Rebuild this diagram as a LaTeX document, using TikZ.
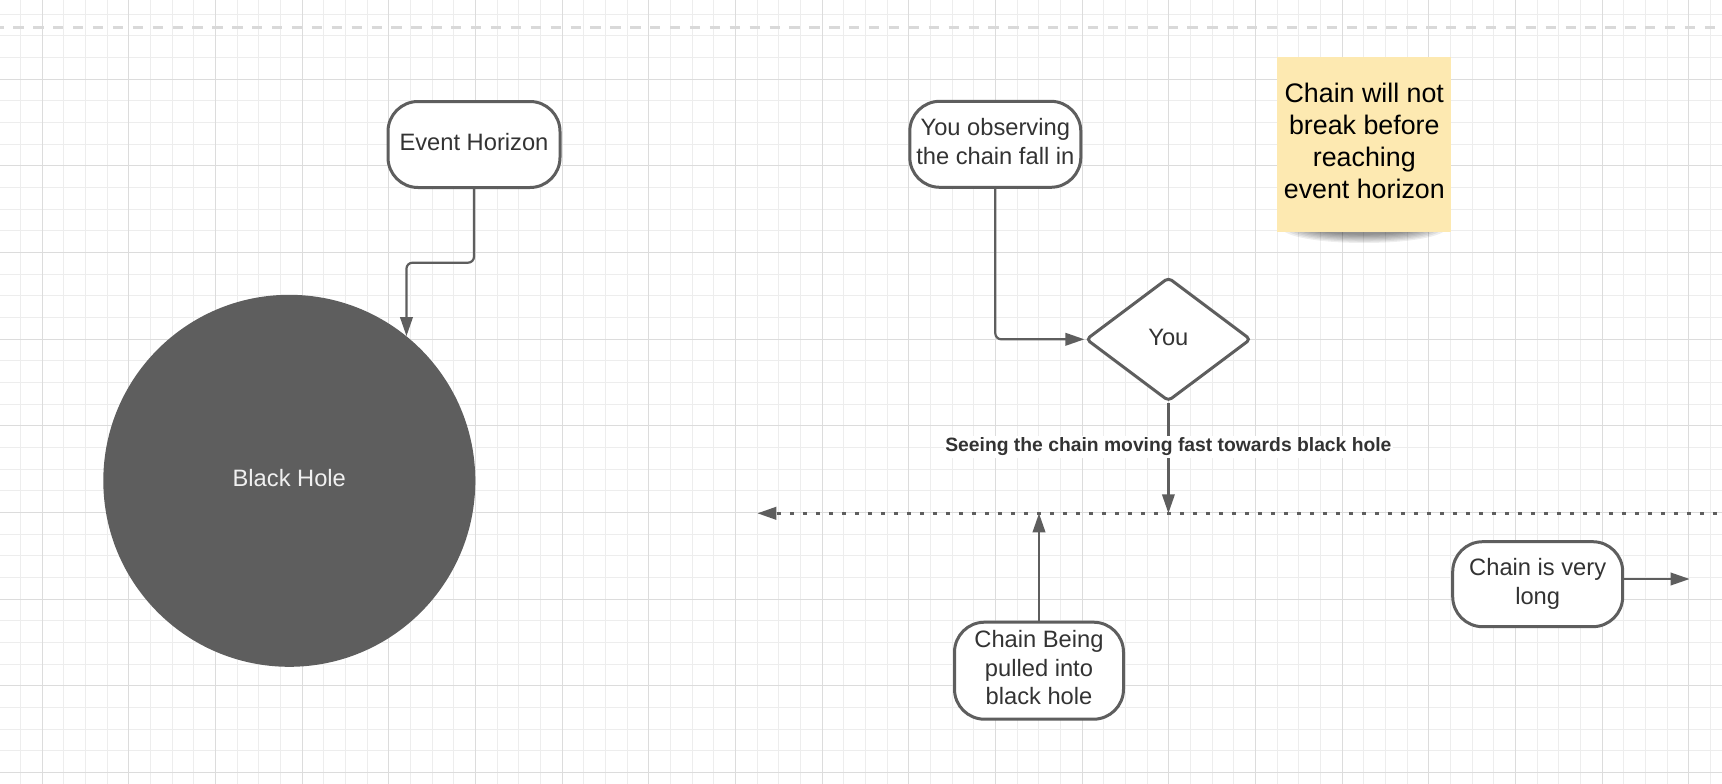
\documentclass[tikz,border=0pt]{standalone}
\usepackage{fontspec}
\setmainfont{Liberation Sans}
\usetikzlibrary{arrows.meta,shapes.geometric}
\definecolor{ln}{HTML}{5E5E5E}
\definecolor{txt}{HTML}{333333}
\definecolor{gmin}{HTML}{EDEDED}
\definecolor{gmaj}{HTML}{DCDCDC}
\definecolor{topdash}{HTML}{D9D9D9}
\definecolor{stick}{HTML}{FDE9B1}
\newcommand{\liftt}[2]{\raisebox{#1}{\begin{tabular}{@{}c@{}}#2\end{tabular}}}
\begin{document}
\begin{tikzpicture}[x=1pt,y=-1pt,
  pill/.style={draw=ln, line width=3pt, fill=white, rounded corners=30pt,
    inner sep=0pt, align=center, text=txt,
    font=\fontsize{23.7pt}{28.5pt}\selectfont},
  conn/.style={draw=ln, line width=2.2pt, -{Triangle[length=19pt,width=12.5pt]}},
  dotline/.style={conn, line width=2.6pt, dash pattern=on 4pt off 9pt},
  lbl/.style={fill=white, inner sep=1.5pt, text=txt,
    font=\fontsize{19.3pt}{23pt}\selectfont\bfseries},
  sticky/.style={fill=stick, minimum width=174pt, minimum height=174pt,
    inner sep=0pt, align=center, text=black,
    font=\fontsize{26.8pt}{32pt}\selectfont}]
\useasboundingbox (0,0) rectangle (1722,784);
\fill[white] (0,0) rectangle (1722,784);
% grid
\begin{scope}
\clip (0,0) rectangle (1722,784);
\foreach \i in {0,...,79} {\draw[gmin, line width=1pt] ({floor(20.63+21.667*\i)+0.5},0) -- ({floor(20.63+21.667*\i)+0.5},784);}
\foreach \j in {0,...,36} {\draw[gmin, line width=1pt] (0,{floor(14.3+21.667*\j)+0.5}) -- (1722,{floor(14.3+21.667*\j)+0.5});}
\foreach \i in {0,...,19} {\draw[gmaj, line width=1pt] ({floor(42.3+86.667*\i)+0.5},0) -- ({floor(42.3+86.667*\i)+0.5},784);}
\foreach \j in {0,...,8} {\draw[gmaj, line width=1pt] (0,{floor(79.3+86.667*\j)+0.5}) -- (1722,{floor(79.3+86.667*\j)+0.5});}
\end{scope}
% top dashed page line
\draw[topdash, line width=2.5pt, dash pattern=on 10.3pt off 9.6pt, dash phase=6.6pt] (0,27.3) -- (1722,27.3);
% sticky note shadow
\foreach \k in {0,...,7} {\fill[black, opacity=0.065] (1364,228) ellipse ({82-4*\k} and {15-1.2*\k});}
% nodes
\node[pill, minimum width=172pt, minimum height=86pt] (eh) at (474,144.5) {\liftt{2.2pt}{Event Horizon}};
\node[circle, fill=ln, minimum size=372pt, inner sep=0pt, text=white!94!black,
  font=\fontsize{23.7pt}{28.5pt}\selectfont] (bh) at (289.3,480.8) {\liftt{5.5pt}{Black Hole}};
\node[pill, minimum width=171pt, minimum height=86pt] (obs) at (995.3,144.3) {\liftt{4.4pt}{You observing\\the chain fall in}};
\node[diamond, draw=ln, line width=3pt, fill=white, aspect=1.33, minimum width=165pt,
  minimum height=124pt, inner sep=0pt, rounded corners=4pt, text=txt,
  font=\fontsize{23.7pt}{28.5pt}\selectfont] (you) at (1168.4,339.3) {\liftt{2.2pt}{You}};
\node[pill, minimum width=169pt, minimum height=97pt] (cb) at (1039,670.7) {\liftt{2.2pt}{Chain Being\\pulled into\\black hole}};
\node[pill, minimum width=170pt, minimum height=85pt] (cl) at (1537.7,584.2) {\liftt{1.1pt}{Chain is very\\long}};
\node[sticky] (note) at (1364.3,144.5) {\liftt{2.7pt}{Chain will not\\break before\\reaching\\event horizon}};
% free ends
\coordinate (dl) at (757.4,513.3);
\coordinate (dr) at (1730,513.3);
\coordinate (clend) at (1689.6,579);
% connectors
\draw[conn, rounded corners=6pt] (eh.south) -- ++(0,73.7) -| (bh.51);
\draw[conn, rounded corners=6pt] (obs.south) |- (you.west);
\draw[dotline] (dr) -- (dl);
\draw[conn] (you.south) -- node[lbl, pos=0.4] (seeing) {Seeing the chain moving fast towards black hole} (you.south |- dl);
\draw[conn] (cb.north) -- (cb.north |- dl);
\draw[conn] (cl.east |- clend) -- (clend);
\end{tikzpicture}
\end{document}
